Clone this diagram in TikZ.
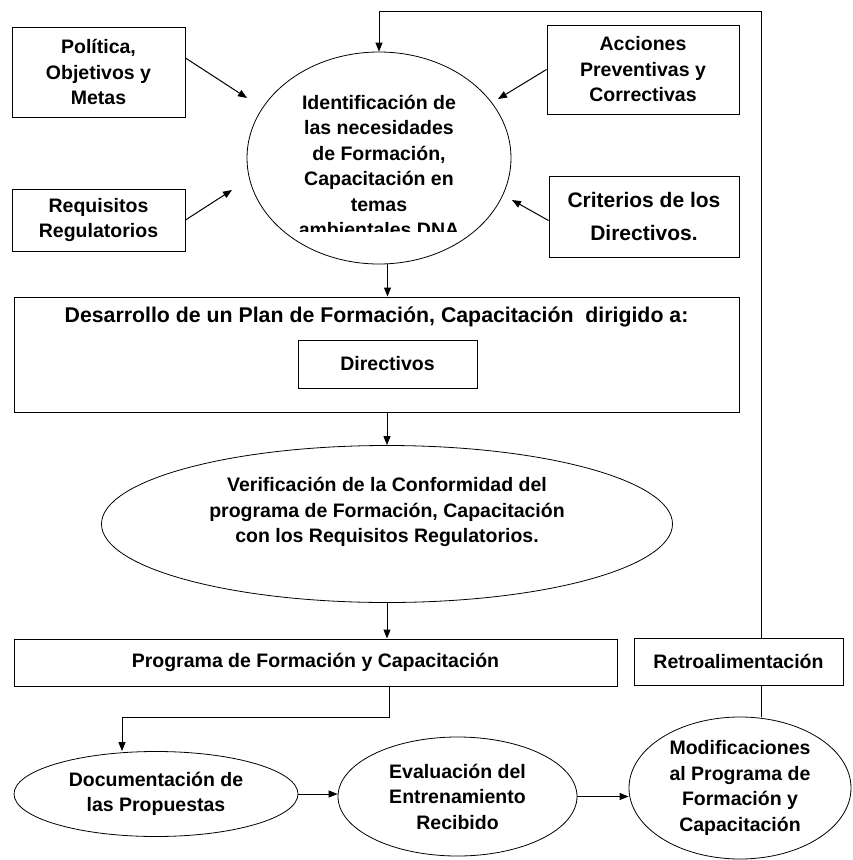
\documentclass[tikz,border=0pt]{standalone}
\usepackage{fontspec}
\setmainfont{Liberation Sans}
\usetikzlibrary{positioning,arrows.meta,shapes.geometric}
\tikzstyle{box} = [
rectangle,
draw=black,
line width=1pt,
inner sep=0pt,
align=center,
font=\bfseries\fontsize{19.5}{25.5}\selectfont
]
\tikzstyle{oval} = [
ellipse,
draw=black,
line width=0.8pt,
inner sep=0pt,
align=center,
font=\bfseries\fontsize{19.5}{25.5}\selectfont
]
\tikzstyle{txt} = [
inner sep=0pt,
align=center,
font=\bfseries\fontsize{19.5}{25.5}\selectfont
]
\tikzstyle{arrow} = [
line width=1pt,
-{Triangle[length=9pt,width=7pt]}
]
\tikzstyle{line} = [
line width=1pt
]
\begin{document}
\begin{tikzpicture}[x=1pt,y=-1pt]
					\useasboundingbox (0,0) rectangle (852,860);
					%Nodes
					\node[oval,minimum width=264pt,minimum height=212pt] (idn) at (379,158) {};
					\begin{scope}
					\clip (240,40) rectangle (520,231);
					\node[txt] (idntext) at (379,166) {Identificación de\\las necesidades\\de Formación,\\Capacitación en\\temas\\ambientales DNA};
					\end{scope}
					\node[box,minimum width=173pt,minimum height=90pt] (pol) at (98.5,72) {Política,\\Objetivos y\\Metas};
					\node[box,minimum width=173pt,minimum height=62pt] (req) at (98.5,220) {Requisitos\\Regulatorios};
					\node[box,minimum width=192pt,minimum height=89pt] (acc) at (643,69.5) {Acciones\\Preventivas y\\Correctivas};
					\node[box,minimum width=190pt,minimum height=81pt,font=\bfseries\fontsize{21}{25.5}\selectfont] (crit) at (644,216.5) {Criterios de los\\[8pt]Directivos.};
					\node[box,minimum width=725pt,minimum height=115pt] (plan) at (376.5,354.5) {};
					\node[txt,below=10pt of plan.north,font=\bfseries\fontsize{21.3}{25.5}\selectfont] (plantitle) {Desarrollo de un Plan de Formación, Capacitación\ \ dirigido a:};
					\node[box,minimum width=179pt,minimum height=48pt] (dir) at (387.5,364) {Directivos};
					\node[oval,minimum width=571pt,minimum height=157pt] (verif) at (387,524) {};
					\node[txt] (veriftext) at (387,512) {Verificación de la Conformidad del\\programa de Formación, Capacitación\\con los Requisitos Regulatorios.};
					\node[box,minimum width=603pt,minimum height=47pt] (prog) at (315.5,662.5) {Programa de Formación y Capacitación};
					\node[box,minimum width=209pt,minimum height=47pt] (retro) at (738.5,661.5) {Retroalimentación};
					\node[oval,minimum width=284pt,minimum height=85pt] (doc) at (156,794) {Documentación de\\las Propuestas};
					\node[oval,minimum width=239pt,minimum height=119pt] (eval) at (457.5,796.5) {Evaluación del\\Entrenamiento\\Recibido};
					\node[oval,minimum width=222pt,minimum height=142pt] (modif) at (740,788) {Modificaciones\\al Programa de\\Formación y\\Capacitación};
					%Coordinates
					\coordinate (fb) at (761,11);
					\coordinate (split) at (389,717);
					\coordinate (pa) at (247,98);
					\coordinate (ra) at (232,190);
					\coordinate (aa) at (498,99);
					\coordinate (ca) at (512,200);
					%Arrows
					\draw[arrow] ([yshift=14pt]pol.east) -- (pa);
					\draw[arrow] (req.east) -- (ra);
					\draw[arrow] (acc.west) -- (aa);
					\draw[arrow] ([yshift=-4pt]crit.west) -- (ca);
					\draw[arrow] (retro.north -| fb) -- (fb) -| (idn.north);
					\draw[arrow] (idn.south -| dir.north) -- (plan.north -| dir.north);
					\draw[arrow] (plan.south -| verif.north) -- (verif.north);
					\draw[arrow] (verif.south) -- (prog.north -| verif.south);
					\draw[arrow] (prog.south -| split) -- (split) -| ([xshift=-34pt]doc.north);
					\draw[arrow] (doc.east) -- (doc.east -| eval.west);
					\draw[arrow] (eval.east) -- (eval.east -| modif.west);
					\draw[line] (retro.south -| fb) -- (modif.north -| fb);
				\end{tikzpicture}
\end{document}
